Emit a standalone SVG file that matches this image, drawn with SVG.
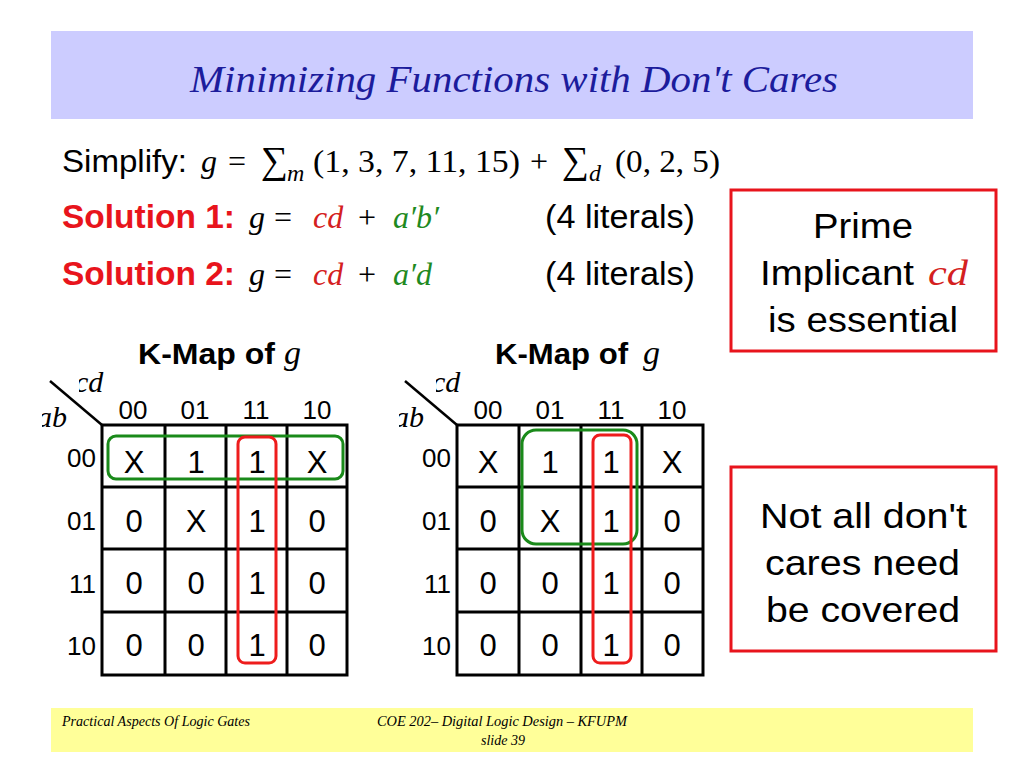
<svg xmlns="http://www.w3.org/2000/svg" width="1024" height="768" viewBox="0 0 1024 768">
<style>
.sans{font-family:"Liberation Sans",Arial,sans-serif}
.math{font-family:"Liberation Serif","DejaVu Serif",serif}
.mi{font-family:"Liberation Serif","DejaVu Serif",serif;font-style:italic}
.cell{font-family:"Liberation Sans",Arial,sans-serif;font-size:31px;text-anchor:middle;fill:#000}
.hdr{font-family:"Liberation Sans",Arial,sans-serif;font-size:26px;text-anchor:middle;fill:#000}
.rl{font-family:"Liberation Sans",Arial,sans-serif;font-size:26px;text-anchor:end;fill:#000}
.grid{stroke:#000;stroke-width:3;fill:none}
.grn{stroke:#1a8a1a;stroke-width:3;fill:none}
.red{stroke:#ee1c1c;stroke-width:3;fill:none}
.box{stroke:#e8141c;stroke-width:3;fill:#fff}
.boxt{font-family:"Liberation Sans",Arial,sans-serif;font-size:35px;fill:#000}
.foot{font-family:"Liberation Serif","DejaVu Serif",serif;font-style:italic;font-size:14px;fill:#000}
</style>
<defs>
<clipPath id="clipL"><rect x="79" y="340" width="300" height="120"/><rect x="42" y="395" width="60" height="60"/></clipPath>
<clipPath id="clipR"><rect x="436" y="340" width="300" height="120"/><rect x="399" y="395" width="60" height="60"/></clipPath>
</defs>
<rect x="0" y="0" width="1024" height="768" fill="#fff"/>

<g id="title">
<rect x="51" y="31" width="922" height="88" fill="#ccccff"/>
<text x="190" y="92" class="mi" font-size="38" fill="#1c1c9c" textLength="648" lengthAdjust="spacingAndGlyphs">Minimizing Functions with Don't Cares</text>
</g>

<g id="simplify">
<text x="62" y="172" class="sans" font-size="32" fill="#000" textLength="125" lengthAdjust="spacingAndGlyphs">Simplify:</text>
<text y="172" font-size="32" fill="#000"><tspan x="201" class="mi">g</tspan><tspan x="228" class="math">=</tspan></text>
<text x="261" y="173" class="math" font-size="38" fill="#000">∑</text>
<text x="287" y="181" class="mi" font-size="24" fill="#000">m</text>
<text x="313" y="172" class="math" font-size="32" fill="#000" textLength="207" lengthAdjust="spacingAndGlyphs">(1, 3, 7, 11, 15)</text>
<text x="530" y="172" class="math" font-size="32" fill="#000">+</text>
<text x="562" y="173" class="math" font-size="38" fill="#000">∑</text>
<text x="589" y="181" class="mi" font-size="24" fill="#000">d</text>
<text x="615" y="172" class="math" font-size="32" fill="#000" textLength="105" lengthAdjust="spacingAndGlyphs">(0, 2, 5)</text>
</g>

<g id="solution1">
<text x="62" y="228" class="sans" font-size="33" font-weight="bold" fill="#e8141c" textLength="173" lengthAdjust="spacingAndGlyphs">Solution 1:</text>
<text y="228" font-size="32"><tspan x="249" class="mi" fill="#000">g</tspan><tspan x="274" class="math" fill="#000">=</tspan><tspan x="313" class="mi" fill="#d42020">cd</tspan><tspan x="358" class="math" fill="#000">+</tspan><tspan x="393" class="mi" fill="#1f8a1f">a′b′</tspan></text>
<text x="545" y="228" class="sans" font-size="33" fill="#000" textLength="150" lengthAdjust="spacingAndGlyphs">(4 literals)</text>
</g>

<g id="solution2">
<text x="62" y="285" class="sans" font-size="33" font-weight="bold" fill="#e8141c" textLength="173" lengthAdjust="spacingAndGlyphs">Solution 2:</text>
<text y="285" font-size="32"><tspan x="249" class="mi" fill="#000">g</tspan><tspan x="274" class="math" fill="#000">=</tspan><tspan x="313" class="mi" fill="#d42020">cd</tspan><tspan x="358" class="math" fill="#000">+</tspan><tspan x="393" class="mi" fill="#1f8a1f">a′d</tspan></text>
<text x="545" y="285" class="sans" font-size="33" fill="#000" textLength="150" lengthAdjust="spacingAndGlyphs">(4 literals)</text>
</g>

<g id="note1">
<rect x="731" y="190" width="265" height="161" class="box"/>
<text x="813" y="238" class="boxt" textLength="100" lengthAdjust="spacingAndGlyphs">Prime</text>
<text x="760" y="285" class="boxt" textLength="154" lengthAdjust="spacingAndGlyphs">Implicant</text>
<text x="928" y="285" class="mi" font-size="36" fill="#d42020" textLength="40" lengthAdjust="spacingAndGlyphs">cd</text>
<text x="768" y="332" class="boxt" textLength="190" lengthAdjust="spacingAndGlyphs">is essential</text>
</g>

<g id="note2">
<rect x="731" y="467" width="265" height="184" class="box"/>
<text x="760" y="528" class="boxt" textLength="207" lengthAdjust="spacingAndGlyphs">Not all don't</text>
<text x="765" y="575" class="boxt" textLength="195" lengthAdjust="spacingAndGlyphs">cares need</text>
<text x="766" y="622" class="boxt" textLength="194" lengthAdjust="spacingAndGlyphs">be covered</text>
</g>

<g id="kmap1">
<text x="138" y="364" class="sans" font-size="29" font-weight="bold" fill="#000" textLength="137" lengthAdjust="spacingAndGlyphs">K-Map of</text>
<text x="284" y="364" class="mi" font-size="34" fill="#000">g</text>
<line x1="50" y1="381" x2="102" y2="425" stroke="#000" stroke-width="2.5"/>
<g clip-path="url(#clipL)">
<text x="75" y="392" class="mi" font-size="30" fill="#000">cd</text>
<text x="37" y="427" class="mi" font-size="30" fill="#000">ab</text>
</g>
<text class="hdr" y="419"><tspan x="133">00</tspan><tspan x="195">01</tspan><tspan x="256">11</tspan><tspan x="317">10</tspan></text>
<text class="rl" x="96" y="467">00</text>
<text class="rl" x="96" y="530">01</text>
<text class="rl" x="96" y="593">11</text>
<text class="rl" x="96" y="655">10</text>
<rect x="102" y="425" width="245" height="250" class="grid"/>
<path class="grid" d="M165 425V675M226 425V675M287 425V675M102 487H347M102 549H347M102 612H347"/>
<text class="cell" y="473"><tspan x="134">X</tspan><tspan x="196">1</tspan><tspan x="257">1</tspan><tspan x="317">X</tspan></text>
<text class="cell" y="532"><tspan x="134">0</tspan><tspan x="196">X</tspan><tspan x="257">1</tspan><tspan x="317">0</tspan></text>
<text class="cell" y="594"><tspan x="134">0</tspan><tspan x="196">0</tspan><tspan x="257">1</tspan><tspan x="317">0</tspan></text>
<text class="cell" y="656"><tspan x="134">0</tspan><tspan x="196">0</tspan><tspan x="257">1</tspan><tspan x="317">0</tspan></text>
</g>

<g id="kmap2">
<text x="495" y="364" class="sans" font-size="29" font-weight="bold" fill="#000" textLength="133" lengthAdjust="spacingAndGlyphs">K-Map of</text>
<text x="643" y="364" class="mi" font-size="34" fill="#000">g</text>
<line x1="405" y1="381" x2="457" y2="425" stroke="#000" stroke-width="2.5"/>
<g clip-path="url(#clipR)">
<text x="432" y="392" class="mi" font-size="30" fill="#000">cd</text>
<text x="394" y="427" class="mi" font-size="30" fill="#000">ab</text>
</g>
<text class="hdr" y="419"><tspan x="488">00</tspan><tspan x="550">01</tspan><tspan x="611">11</tspan><tspan x="672">10</tspan></text>
<text class="rl" x="451" y="467">00</text>
<text class="rl" x="451" y="530">01</text>
<text class="rl" x="451" y="593">11</text>
<text class="rl" x="451" y="655">10</text>
<rect x="457" y="425" width="246" height="250" class="grid"/>
<path class="grid" d="M519 425V675M581 425V675M642 425V675M457 487H703M457 549H703M457 612H703"/>
<text class="cell" y="473"><tspan x="488">X</tspan><tspan x="550">1</tspan><tspan x="611">1</tspan><tspan x="672">X</tspan></text>
<text class="cell" y="532"><tspan x="488">0</tspan><tspan x="550">X</tspan><tspan x="611">1</tspan><tspan x="672">0</tspan></text>
<text class="cell" y="594"><tspan x="488">0</tspan><tspan x="550">0</tspan><tspan x="611">1</tspan><tspan x="672">0</tspan></text>
<text class="cell" y="656"><tspan x="488">0</tspan><tspan x="550">0</tspan><tspan x="611">1</tspan><tspan x="672">0</tspan></text>
</g>

<g id="groupings">
<rect x="108" y="436" width="235" height="43" rx="8" class="grn"/>
<rect x="238" y="437" width="38" height="226" rx="7" class="red"/>
<rect x="522" y="430" width="115" height="114" rx="14" class="grn"/>
<rect x="593" y="435" width="38" height="228" rx="7" class="red"/>
</g>

<g id="footer">
<rect x="51" y="708" width="922" height="44" fill="#ffff99"/>
<text x="62" y="726" class="foot" textLength="188" lengthAdjust="spacingAndGlyphs">Practical Aspects Of Logic Gates</text>
<text x="377" y="726" class="foot" textLength="250" lengthAdjust="spacingAndGlyphs">COE 202– Digital Logic  Design – KFUPM</text>
<text x="503" y="745" class="foot" text-anchor="middle">slide 39</text>
</g>
</svg>
